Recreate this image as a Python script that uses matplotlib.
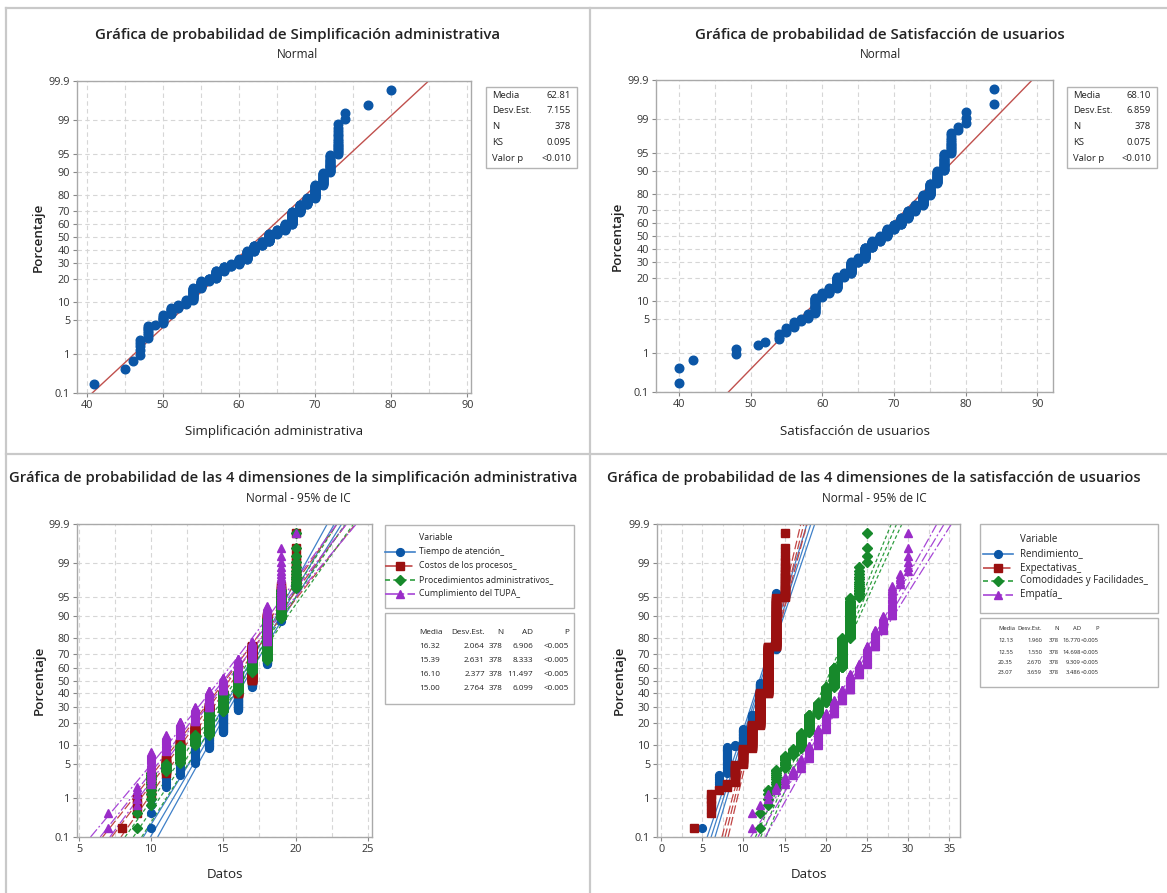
import numpy as np
import matplotlib
matplotlib.use("Agg")
import matplotlib.pyplot as plt
from matplotlib.lines import Line2D
from matplotlib.patches import Rectangle
from matplotlib.ticker import MultipleLocator
from statistics import NormalDist

plt.rcParams['font.family'] = ['Open Sans', 'DejaVu Sans']

W, H = 1167, 893
N = 378
nd = NormalDist()

# %% Data: score values and number of respondents per value

# top-left: Simplificación administrativa
simp_vals = [41, 45, 46, 47, 48, 49, 50, 51, 52, 53, 54, 55, 56, 57, 58, 59, 60,
             61, 62, 63, 64, 65, 66, 67, 68, 69, 70, 71, 72, 73, 74, 77, 80]
simp_counts = [1, 1, 1, 5, 7, 1, 7, 7, 4, 6, 19, 13, 6, 17, 11, 6, 13,
               22, 17, 12, 22, 12, 17, 34, 19, 15, 26, 19, 19, 15, 2, 1, 1]
simp_stats = ["62.81", "7.155", "378", "0.095", "<0.010"]
simp_mean, simp_sd = 62.81, 7.155

# top-right: Satisfacción de usuarios
sat_vals = [40, 42, 48, 51, 52, 54, 55, 56, 57, 58, 59, 60, 61, 62, 63, 64, 65,
            66, 67, 68, 69, 70, 71, 72, 73, 74, 75, 76, 77, 78, 79, 80, 84]
sat_counts = [2, 1, 2, 1, 1, 3, 3, 4, 2, 4, 19, 7, 8, 22, 8, 27, 11,
              30, 19, 15, 20, 14, 19, 19, 15, 23, 23, 19, 18, 12, 2, 3, 2]
sat_stats = ["68.10", "6.859", "378", "0.075", "<0.010"]
sat_mean, sat_sd = 68.10, 6.859

stat_labels = ["Media", "Desv.Est.", "N", "KS", "Valor p"]

# bottom-left: 4 dimensions of simplificación administrativa
tiempo_vals = [10, 11, 12, 13, 14, 15, 16, 17, 18, 19, 20]
tiempo_counts = [6, 5, 8, 15, 23, 49, 64, 68, 95, 32, 13]
costos_vals = [8, 9, 10, 11, 12, 13, 14, 15, 16, 17, 18, 19, 20]
costos_counts = [1, 3, 8, 11, 19, 26, 45, 38, 38, 95, 56, 27, 11]
proced_vals = [9, 10, 11, 12, 13, 14, 15, 16, 17, 18, 19, 20]
proced_counts = [2, 11, 6, 19, 15, 49, 53, 60, 34, 87, 29, 13]
tupa_vals = [7, 9, 10, 11, 12, 13, 14, 15, 16, 17, 18, 19, 20]
tupa_counts = [2, 5, 23, 23, 26, 34, 46, 38, 56, 42, 57, 25, 1]

dim_simp_names = ["Tiempo de atención_", "Costos de los procesos_",
                  "Procedimientos administrativos_", "Cumplimiento del TUPA_"]
dim_simp_mean = [16.32, 15.39, 16.10, 15.00]
dim_simp_sd = [2.064, 2.631, 2.377, 2.764]
dim_simp_ad = ["6.906", "8.333", "11.497", "6.099"]

# bottom-right: 4 dimensions of satisfacción de usuarios
rend_vals = [5, 6, 7, 8, 9, 10, 11, 12, 13, 14, 15]
rend_counts = [1, 4, 7, 24, 3, 25, 31, 86, 95, 87, 15]
expec_vals = [4, 6, 7, 8, 9, 10, 11, 12, 13, 14, 15]
expec_counts = [1, 4, 1, 2, 10, 16, 38, 80, 131, 76, 19]
comod_vals = [12, 13, 14, 15, 16, 17, 18, 19, 20, 21, 22, 23, 24, 25]
comod_counts = [2, 4, 9, 11, 8, 23, 38, 30, 45, 57, 75, 57, 15, 4]
empat_vals = [11, 12, 13, 14, 15, 16, 17, 18, 19, 20, 21, 22, 23, 24, 25, 26, 27, 28, 29, 30]
empat_counts = [2, 1, 2, 2, 4, 4, 8, 15, 26, 34, 34, 30, 46, 30, 46, 34, 22, 27, 5, 6]

dim_sat_names = ["Rendimiento_", "Expectativas_", "Comodidades y Facilidades_", "Empatía_"]
dim_sat_mean = [12.13, 12.55, 20.35, 23.07]
dim_sat_sd = [1.960, 1.550, 2.670, 3.659]
dim_sat_ad = ["16.770", "14.698", "9.309", "3.486"]

pct_ticks = [0.1, 1, 5, 10, 20, 30, 40, 50, 60, 70, 80, 90, 95, 99, 99.9]
pct_labels = ["0.1", "1", "5", "10", "20", "30", "40", "50", "60", "70", "80", "90", "95", "99", "99.9"]

# %% Styles
mark_col = ['#0b56a6', '#9a1010', '#17892b', '#9a2cc8']
line_col = ['#3f80c8', '#c04545', '#2f9e40', '#a746d6']
line_sty = ['-', (0, (7, 2.5)), (0, (3, 2)), (0, (8, 2, 1.5, 2))]
markers = ['o', 's', 'D', '^']
msizes = [5.6, 5.4, 4.8, 5.8]

zlo, zhi = nd.inv_cdf(0.001), nd.inv_cdf(0.999)


def px(x, y):
    return x / W, 1 - y / H


def ax_rect(l, t, r, b):
    return [l / W, 1 - b / H, (r - l) / W, (b - t) / H]


def prob_points(vals, counts):
    x = np.repeat(vals, counts)
    n = len(x)
    p = (np.arange(1, n + 1) - 0.3) / (n + 0.4)
    z = np.array([nd.inv_cdf(q) for q in p])
    return x, z


def fit_lines(mu, sd, n, ci=True):
    zz = np.linspace(zlo, zhi, 200)
    xc = mu + sd * zz
    half = 1.96 * sd * np.sqrt((1 + zz ** 2 / 2) / n)
    if ci:
        return zz, [xc - half, xc, xc + half]
    return zz, [xc]


def setup(ax, xlim, xmajor, xminor):
    ax.set_xlim(xlim)
    ax.set_ylim(zlo, zhi)
    ax.set_yticks([nd.inv_cdf(p / 100) for p in pct_ticks])
    ax.set_yticklabels(pct_labels)
    ax.xaxis.set_major_locator(MultipleLocator(xmajor))
    ax.xaxis.set_minor_locator(MultipleLocator(xminor))
    ax.grid(which='both', axis='x', color='#d6d6d6', ls=(0, (4, 3)), lw=0.8)
    ax.grid(which='major', axis='y', color='#d6d6d6', ls=(0, (4, 3)), lw=0.8)
    ax.set_axisbelow(True)
    for s in ax.spines.values():
        s.set_color('#a9a9a9')
        s.set_linewidth(1.0)
    ax.tick_params(which='major', length=3, color='#888888', labelsize=7.8,
                   labelcolor='#333333', pad=2)
    ax.tick_params(which='minor', length=0)


def text(x, y, s, **kw):
    kw.setdefault('color', '#222222')
    fig.text(*px(x, y), s, **kw)


def box(x0, y0, x1, y1):
    fig.add_artist(Rectangle(px(x0, y1), (x1 - x0) / W, (y1 - y0) / H,
                             transform=fig.transFigure, fill=False,
                             ec='#b4b4b4', lw=1.0))


fig = plt.figure(figsize=(W / 100, H / 100), dpi=100)
fig.patch.set_facecolor('white')

# panel frames of the collage
for xs, ys in [([6, W], [8, 8]), ([6, 6], [8, H]), ([6, W], [454, 454]), ([590, 590], [8, H])]:
    fig.add_artist(Line2D([x / W for x in xs], [1 - y / H for y in ys],
                          transform=fig.transFigure, color='#c9c9c9', lw=1.6))

# %% Top panels: single variable probability plots
top = [
    (simp_vals, simp_counts, simp_mean, simp_sd, simp_stats, (77, 81, 471, 393), (38.7, 90.5),
     "Gráfica de probabilidad de Simplificación administrativa", "Simplificación administrativa",
     298, (486, 87, 577, 168)),
    (sat_vals, sat_counts, sat_mean, sat_sd, sat_stats, (656, 80, 1053, 392), (36.8, 92.2),
     "Gráfica de probabilidad de Satisfacción de usuarios", "Satisfacción de usuarios",
     880, (1067, 87, 1157, 168)),
]
for vals, counts, mu, sd, stats, rect, xlim, title, xlab, tx, sbox in top:
    ax = fig.add_axes(ax_rect(*rect))
    setup(ax, xlim, 10, 5)
    zz, lines = fit_lines(mu, sd, N, ci=False)
    ax.plot(lines[0], zz, color='#c0504d', lw=1.0, zorder=2)
    x, z = prob_points(vals, counts)
    ax.plot(x, z, 'o', color=mark_col[0], ms=6.2, mec=mark_col[0], zorder=3, clip_on=False)
    text(tx, 35, title, ha='center', va='center', fontsize=10.8, fontweight='semibold')
    text(tx, 55, "Normal", ha='center', va='center', fontsize=8.5)
    text((rect[0] + rect[2]) / 2, 431, xlab, ha='center', va='center', fontsize=9.6)
    text(rect[0] - 39, (rect[1] + rect[3]) / 2, "Porcentaje", ha='center', va='center',
         rotation=90, fontsize=9.6, fontweight='semibold')
    box(*sbox)
    for i, (lab, val) in enumerate(zip(stat_labels, stats)):
        yy = 95 + i * 15.8
        text(sbox[0] + 6, yy, lab, ha='left', va='center', fontsize=6.8)
        text(sbox[2] - 6, yy, val, ha='right', va='center', fontsize=6.8)

# %% Bottom panels: four dimensions with 95% CI
bottom = [
    ([(tiempo_vals, tiempo_counts), (costos_vals, costos_counts),
      (proced_vals, proced_counts), (tupa_vals, tupa_counts)],
     dim_simp_names, dim_simp_mean, dim_simp_sd, dim_simp_ad,
     (77, 524, 372, 837), (4.85, 25.3), 5,
     "Gráfica de probabilidad de las 4 dimensiones de la simplificación administrativa", 293, 298,
     dict(lbox=(385, 525, 574, 608), l0=385, l1=415, tx=419, ly=[538, 552, 566, 580, 594], lfs=6.3,
          tbox=(385, 613, 574, 704), ty=[632, 646, 661, 675, 688], tfs=5.9,
          cols=[(419, 'left'), (485, 'right'), (503, 'right'), (533, 'right'), (569, 'right')])),
    ([(rend_vals, rend_counts), (expec_vals, expec_counts),
      (comod_vals, comod_counts), (empat_vals, empat_counts)],
     dim_sat_names, dim_sat_mean, dim_sat_sd, dim_sat_ad,
     (657, 524, 960, 837), (-0.5, 36.3), 5,
     "Gráfica de probabilidad de las 4 dimensiones de la satisfacción de usuarios", 874, 874,
     dict(lbox=(980, 524, 1158, 613), l0=983, l1=1013, tx=1020, ly=[540, 554, 568, 581, 595], lfs=7.0,
          tbox=(980, 618, 1158, 687), ty=[628, 641, 652, 662, 672], tfs=4.2,
          cols=[(998, 'left'), (1042, 'right'), (1059, 'right'), (1081, 'right'), (1099, 'right')])),
]
for series, names, means, sds, ads, rect, xlim, xmaj, title, tx, sx, lg in bottom:
    ax = fig.add_axes(ax_rect(*rect))
    setup(ax, xlim, xmaj, 2.5)
    for k, (vals, counts) in enumerate(series):
        zz, lines = fit_lines(means[k], sds[k], N)
        for ln in lines:
            ax.plot(ln, zz, color=line_col[k], ls=line_sty[k], lw=0.9, zorder=2)
    for k, (vals, counts) in enumerate(series):
        x, z = prob_points(vals, counts)
        ax.plot(x, z, markers[k], color=mark_col[k], mec=mark_col[k], ms=msizes[k],
                zorder=3 + k, clip_on=False)
    text(tx, 478, title, ha='center', va='center', fontsize=10.6, fontweight='semibold')
    text(sx, 498, "Normal - 95% de IC", ha='center', va='center', fontsize=8.5)
    text((rect[0] + rect[2]) / 2, 875, "Datos", ha='center', va='center', fontsize=9.6)
    text(rect[0] - 38, (rect[1] + rect[3]) / 2, "Porcentaje", ha='center', va='center',
         rotation=90, fontsize=9.6, fontweight='semibold')

    # legend
    box(*lg['lbox'])
    text(lg['tx'], lg['ly'][0], "Variable", ha='left', va='center', fontsize=lg['lfs'])
    for k, name in enumerate(names):
        yy = lg['ly'][k + 1]
        xa, ya = px(lg['l0'], yy)
        xb, _ = px(lg['l1'], yy)
        fig.add_artist(Line2D([xa, xb], [ya, ya], transform=fig.transFigure,
                              color=line_col[k], ls=line_sty[k], lw=1.2))
        fig.add_artist(Line2D([(xa + xb) / 2], [ya], transform=fig.transFigure,
                              marker=markers[k], color=mark_col[k], ms=msizes[k]))
        text(lg['tx'], yy, name, ha='left', va='center', fontsize=lg['lfs'])

    # statistics table
    box(*lg['tbox'])
    header = ["Media", "Desv.Est.", "N", "AD", "P"]
    rows = [header] + [[f"{means[k]:.2f}", f"{sds[k]:.3f}", "378", ads[k], "<0.005"]
                       for k in range(4)]
    for r, row in enumerate(rows):
        for (cx, ha), cell in zip(lg['cols'], row):
            text(cx, lg['ty'][r], cell, ha=ha, va='center', fontsize=lg['tfs'])

fig.savefig("out.png", dpi=100, facecolor='white')
